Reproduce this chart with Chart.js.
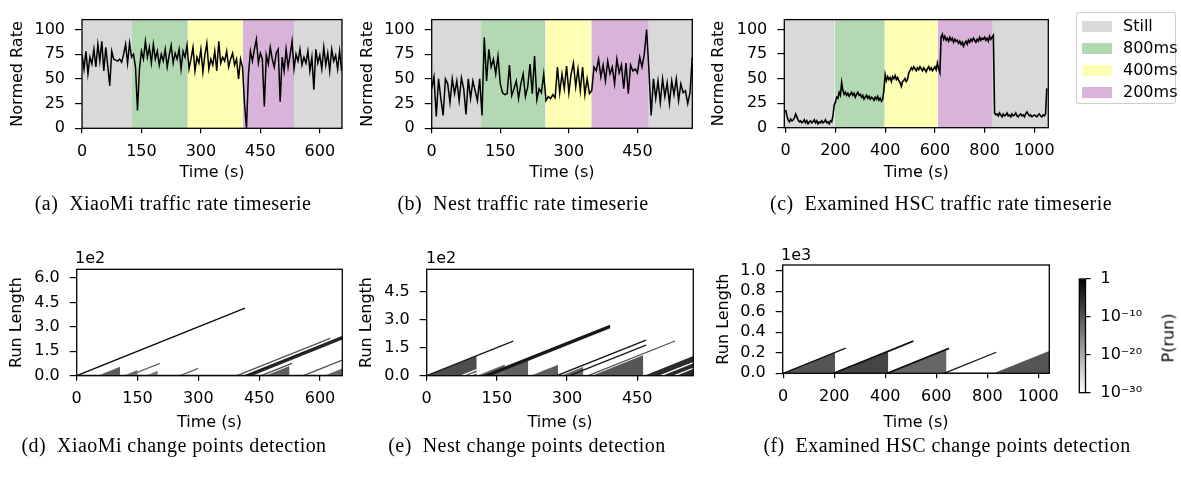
<!DOCTYPE html>
<html>
<head>
<meta charset="utf-8">
<script src="https://cdn.jsdelivr.net/npm/chart.js@4.4.0/dist/chart.umd.min.js"></script>
<style>
  body { margin: 0; background: #fff; }
  #page { position: relative; width: 1181px; height: 477px; overflow: hidden; font-family: 'DejaVu Sans', sans-serif; }
  canvas { position: absolute; left: 0; top: 0; }
  .cap { position: absolute; width: 460px; text-align: center; font-family: 'Liberation Serif', serif;
         font-size: 20px; letter-spacing: 0.45px; line-height: 20px; white-space: nowrap; color: #000; }
  .off { position: absolute; font-size: 16px; line-height: 19px; color: #000; }
  #legend { position: absolute; left: 1076px; top: 12px; width: 100px; height: 92px; box-sizing: border-box;
            border: 1px solid #cccccc; border-radius: 3px; background: #fff; }
  .row { position: absolute; left: 0; height: 22px; line-height: 22px; font-size: 16px; white-space: nowrap; }
  .row span.patch { position: absolute; left: 5px; top: 5.5px; width: 30px; height: 11px; }
  .row span.txt { position: absolute; left: 46px; top: 0; }
  #prun { position: absolute; left: 1168px; top: 338px; font-size: 16px; line-height: 19px; color: #000;
          transform: translate(-50%, -50%) rotate(-90deg); white-space: nowrap; }
</style>
</head>
<body>
<div id="page">
  <canvas id="ca" width="1181" height="477"></canvas>
  <canvas id="cb" width="1181" height="477"></canvas>
  <canvas id="cc" width="1181" height="477"></canvas>
  <canvas id="cd" width="1181" height="477"></canvas>
  <canvas id="ce" width="1181" height="477"></canvas>
  <canvas id="cf" width="1181" height="477"></canvas>
  <canvas id="cbar" width="1181" height="477"></canvas>

  <div id="legend"></div>
  <div id="prun">P(run)</div>

  <div class="off" style="left:75px;top:248px">1e2</div>
  <div class="off" style="left:426px;top:248px">1e2</div>
  <div class="off" style="left:781px;top:245px">1e3</div>

  <div class="cap" style="left:-57px;top:193px">(a)&nbsp; XiaoMi traffic rate timeserie</div>
  <div class="cap" style="left:293px;top:193px">(b)&nbsp; Nest traffic rate timeserie</div>
  <div class="cap" style="left:711px;top:193px">(c)&nbsp; Examined HSC traffic rate timeserie</div>
  <div class="cap" style="left:-56px;top:435px">(d)&nbsp; XiaoMi change points detection</div>
  <div class="cap" style="left:297px;top:435px">(e)&nbsp; Nest change points detection</div>
  <div class="cap" style="left:717px;top:435px">(f)&nbsp; Examined HSC change points detection</div>
</div>

<script>
// ---- data -------------------------------------------------------------

// phases of the experiment (seconds)
const bandLabels = ['Still', '800ms', '400ms', '200ms', 'Still'];
const bandStartA = [0, 126, 267, 406, 535];
const bandEndA   = [126, 267, 406, 535, 656];
const bandStartB = [0, 108, 249, 349, 475];
const bandEndB   = [108, 249, 349, 475, 570];
const bandStartC = [-6, 196, 398, 611, 833];
const bandEndC   = [196, 398, 611, 833, 1056];

// normed traffic rate, XiaoMi, one sample every 5 s
const stepA = 5;
const rateA = [
  75, 60, 78, 55, 72, 65, 80, 62, 85, 68,
  88, 58, 82, 63, 43, 78, 70, 69, 68, 70,
  67, 75, 85, 66, 86, 72, 75, 62, 18, 60,
  78, 70, 88, 72, 82, 66, 85, 70, 78, 64,
  75, 68, 80, 62, 74, 84, 66, 76, 70, 80,
  60, 78, 72, 84, 60, 70, 82, 58, 72, 66,
  80, 57, 74, 86, 60, 70, 64, 78, 58, 88,
  66, 72, 68, 78, 62, 70, 76, 64, 70, 50,
  70, 62, 25, 0, 55, 78, 68, 80, 90, 66,
  76, 70, 22, 74, 65, 82, 70, 62, 76, 80,
  27, 72, 58, 80, 62, 74, 88, 60, 75, 68,
  80, 64, 72, 66, 78, 58, 72, 39, 80, 66,
  74, 60, 82, 64, 76, 58, 80, 68, 74, 60,
  78, 58
];

// normed traffic rate, Nest, one sample every 5 s
const stepB = 5;
const rateB = [
  40, 52, 12, 50, 30, 13, 50, 45, 26, 50,
  35, 48, 28, 51, 40, 14, 50, 30, 48, 38,
  28, 50, 13, 92, 48, 80, 62, 70, 55, 73,
  45, 36, 34, 35, 64, 33, 40, 48, 30, 45,
  55, 32, 42, 65, 35, 73, 29, 40, 36, 55,
  28, 32, 30, 34, 31, 62, 36, 55, 40, 63,
  36, 55, 66, 42, 60, 38, 62, 34, 50, 35,
  38, 62, 58, 70, 52, 64, 48, 68, 55, 62,
  45, 70, 56, 64, 40, 66, 35, 64, 58, 60,
  56, 72, 62, 75, 100, 60, 13, 50, 30, 48,
  26, 50, 32, 46, 25, 48, 34, 50, 28, 45,
  36, 38, 25, 36, 72
];

// normed traffic rate, examined HSC, one sample every 5 s
const stepC = 5;
const rateC = [
  18, 12, 8, 6, 9, 7, 8, 10, 14, 11,
  8, 6, 7, 5, 6, 8, 5, 7, 4, 6,
  7, 5, 6, 8, 5, 7, 4, 6, 5, 7,
  5, 6, 8, 5, 6, 4, 7, 6, 12, 23,
  26, 31, 30, 36, 33, 46, 38, 34, 36, 33,
  35, 32, 34, 36, 33, 35, 31, 34, 36, 33,
  34, 31, 33, 29, 31, 33, 30, 32, 29, 31,
  30, 28, 31, 29, 32, 28, 30, 27, 29, 38,
  54, 48, 52, 49, 51, 47, 52, 50, 53, 49,
  51, 48, 46, 42, 47, 48, 50, 47, 49, 56,
  58, 61, 59, 62, 60, 58, 61, 59, 62, 60,
  58, 61, 59, 57, 60, 62, 59, 61, 58, 60,
  62, 59, 66, 60, 56, 92, 95, 90, 93, 89,
  91, 88, 92, 89, 91, 87, 90, 88, 89, 86,
  88, 85, 87, 83, 86, 88, 85, 89, 87, 90,
  88, 91, 89, 87, 90, 88, 92, 89, 91, 90,
  92, 89, 91, 88, 93, 90, 92, 94, 15, 13,
  14, 12, 15, 13, 11, 14, 12, 13, 15, 12,
  13, 11, 14, 12, 13, 15, 12, 11, 13, 14,
  12, 13, 11, 14, 16, 14, 12, 13, 11, 12,
  13, 12, 11, 13, 14, 12, 11, 13, 12, 14,
  40
];

// run-length posterior: ramps (start s, end s, log10 P) and filled wedges
const rampStartD = [0, 129, 255, 395, 415, 422, 429, 455, 559];
const rampEndD   = [415, 205, 300, 625, 655, 655, 655, 531, 655];
const rampLogPD  = [-1, -12, -12, -10, -2, -3, -5, -9, -10];
const wedgeStartD = [52, 115, 170, 465, 610];
const wedgeEndD   = [107, 150, 200, 525, 655];
const wedgeLogPD  = [-11, -13, -14, -11, -12];
const floorD = [0, 655, 8, -16];   // start, end, run length, log10 P

const rampStartE = [0, 122, 126, 130, 134, 278, 305, 345, 75, 90, 500, 530];
const rampEndE   = [185, 392, 392, 392, 392, 469, 469, 531, 107, 107, 570, 570];
const rampLogPE  = [-3, -3, -2, -3, -4, -2, -3, -10, -30, -30, -30, -30];
const wedgeStartE = [0, 107, 124, 222, 287, 353, 400, 465];
const wedgeEndE   = [107, 167, 217, 281, 335, 463, 463, 570];
const wedgeLogPE  = [-9, -12, -11, -11, -12, -10, -13, -5];
const floorE = [0, 570, 5, -16];

const rampStartF = [0, 195, 200, 405, 410, 630];
const rampEndF   = [245, 510, 510, 650, 650, 835];
const rampLogPF  = [-2, -2, -4, -2, -4, -2];
const wedgeStartF = [0, 195, 405, 405, 825];
const wedgeEndF   = [203, 412, 640, 500, 1045];
const wedgeLogPF  = [-10, -8, -12, -7, -10];
const floorF = [420, 830, 8, -14];

// tick values
const ticksRate = [0, 25, 50, 75, 100];
const ticksTimeA = [0, 150, 300, 450, 600];
const ticksTimeB = [0, 150, 300, 450];
const ticksTimeC = [0, 200, 400, 600, 800, 1000];
const ticksRunD = [0, 1.5, 3.0, 4.5, 6.0];
const ticksRunE = [0, 1.5, 3.0, 4.5];
const ticksRunF = [0, 0.2, 0.4, 0.6, 0.8, 1.0];
const cbarTicks = [0, -10, -20, -30];
const cbarLabels = ['1', '10\u207B\u00B9\u2070', '10\u207B\u00B2\u2070', '10\u207B\u00B3\u2070'];

// ---- style ------------------------------------------------------------

const W = 1181, H = 477;
const HALF = 9.6;  // half line height of a 16px axis title
const bandColors = ['rgb(217,217,217)', 'rgb(179,217,179)', 'rgb(255,255,179)', 'rgb(217,179,217)', 'rgb(217,217,217)'];
const font16 = { family: 'DejaVu Sans', size: 16 };

function grey(logp) {
  const g = Math.round(255 * Math.min(1, Math.max(0, logp / -30)));
  return 'rgb(' + g + ',' + g + ',' + g + ')';
}

const framePlugin = {
  id: 'frame',
  afterDatasetsDraw(chart) {
    const a = chart.chartArea, c = chart.ctx;
    c.save();
    c.strokeStyle = '#000';
    c.lineWidth = 1.3;
    c.strokeRect(a.left, a.top, a.right - a.left, a.bottom - a.top);
    c.restore();
  }
};

function xAxis(min, max, ticks, fmt, h) {
  return {
    type: 'linear', min: min, max: max,
    afterBuildTicks: s => { s.ticks = ticks.map(v => ({ value: v })); },
    afterFit: s => { s.height = h; },
    grid: { drawOnChartArea: false, color: '#000', tickLength: 5, lineWidth: 1.2 },
    border: { display: false },
    ticks: { font: font16, color: '#000', padding: 9, maxRotation: 0, autoSkip: false, callback: fmt },
    title: { display: true, text: 'Time (s)', font: font16, color: '#000', padding: 0 }
  };
}

function yAxis(min, max, ticks, fmt, w, title) {
  return {
    min: min, max: max,
    afterBuildTicks: s => { s.ticks = ticks.map(v => ({ value: v })); },
    afterFit: s => { s.width = w; },
    grid: { drawOnChartArea: false, color: '#000', tickLength: 7, lineWidth: 1.2 },
    border: { display: false },
    ticks: { font: font16, color: '#000', padding: 10, autoSkip: false, callback: fmt },
    title: { display: true, text: title, font: font16, color: '#000', padding: 0 }
  };
}

// box: plot area (L,T,R,B), centre of y title (yT) and of x title (xT)
function panel(id, box, xs, ys, datasets) {
  const pad = { left: box.yT - HALF, top: box.T, right: W - box.R, bottom: H - box.xT - HALF };
  return new Chart(document.getElementById(id), {
    type: 'line',
    data: { datasets: datasets },
    options: {
      responsive: false, animation: false, events: [],
      layout: { padding: pad },
      plugins: { legend: { display: false }, tooltip: { enabled: false } },
      elements: { point: { radius: 0 }, line: { tension: 0 } },
      scales: {
        x: xAxis(xs.min, xs.max, xs.ticks, xs.fmt, box.xT + HALF - box.B),
        y: yAxis(ys.min, ys.max, ys.ticks, ys.fmt, box.L - (box.yT - HALF), ys.title)
      }
    },
    plugins: [framePlugin]
  });
}

const rateMax = 110;

function rateSets(step, rates, bStart, bEnd, lw) {
  const sets = [{
    data: rates.map((v, i) => ({ x: i * step, y: v })),
    borderColor: '#000', borderWidth: lw, fill: false, order: 0
  }];
  bStart.forEach((s, i) => {
    sets.push({
      label: bandLabels[i],
      data: [{ x: s, y: rateMax }, { x: bEnd[i], y: rateMax }],
      borderColor: 'rgba(0,0,0,0)', backgroundColor: bandColors[i], fill: 'origin', order: 1
    });
  });
  return sets;
}

function runSets(div, rS, rE, rP, wS, wE, wP, floor) {
  const sets = [];
  rS.forEach((s, i) => sets.push({
    data: [{ x: s, y: 0 }, { x: rE[i], y: (rE[i] - s) / div }],
    borderColor: grey(rP[i]), borderWidth: 1.3, fill: false, order: 0
  }));
  wS.forEach((s, i) => sets.push({
    data: [{ x: s, y: 0 }, { x: wE[i], y: (wE[i] - s) / div }],
    borderColor: 'rgba(0,0,0,0)', backgroundColor: grey(wP[i]), fill: 'origin', order: 1
  }));
  sets.push({
    data: [{ x: floor[0], y: floor[2] / div }, { x: floor[1], y: floor[2] / div }],
    borderColor: 'rgba(0,0,0,0)', backgroundColor: grey(floor[3]), fill: 'origin', order: 2
  });
  return sets;
}

const intFmt = v => String(v);
const oneDec = v => v.toFixed(1);

// ---- top row: traffic rate -------------------------------------------

panel('ca', { L: 82, T: 4, R: 342, B: 128.3, yT: 17.5, xT: 173 },
  { min: 0, max: 656, ticks: ticksTimeA, fmt: intFmt },
  { min: 0, max: rateMax, ticks: ticksRate, fmt: intFmt, title: 'Normed Rate' },
  rateSets(stepA, rateA, bandStartA, bandEndA, 1.5));

panel('cb', { L: 431.7, T: 4, R: 692.3, B: 128.3, yT: 367.5, xT: 173 },
  { min: 0, max: 570, ticks: ticksTimeB, fmt: intFmt },
  { min: 0, max: rateMax, ticks: ticksRate, fmt: intFmt, title: 'Normed Rate' },
  rateSets(stepB, rateB, bandStartB, bandEndB, 1.5));

panel('cc', { L: 784.3, T: 4.3, R: 1048.3, B: 127.7, yT: 719.3, xT: 173 },
  { min: -5.6, max: 1056, ticks: ticksTimeC, fmt: intFmt },
  { min: 0, max: rateMax, ticks: ticksRate, fmt: intFmt, title: 'Normed Rate' },
  rateSets(stepC, rateC, bandStartC, bandEndC, 1.6));

// ---- bottom row: run length ------------------------------------------

panel('cd', { L: 76.7, T: 269.3, R: 342.3, B: 375.7, yT: 17, xT: 422.5 },
  { min: 0, max: 655, ticks: ticksTimeA, fmt: intFmt },
  { min: 0, max: 6.54, ticks: ticksRunD, fmt: oneDec, title: 'Run Length' },
  runSets(100, rampStartD, rampEndD, rampLogPD, wedgeStartD, wedgeEndD, wedgeLogPD, floorD));

panel('ce', { L: 426.7, T: 269.3, R: 693.3, B: 375.7, yT: 367, xT: 422.5 },
  { min: 0, max: 570, ticks: ticksTimeB, fmt: intFmt },
  { min: 0, max: 5.7, ticks: ticksRunE, fmt: oneDec, title: 'Run Length' },
  runSets(100, rampStartE, rampEndE, rampLogPE, wedgeStartE, wedgeEndE, wedgeLogPE, floorE));

panel('cf', { L: 782.7, T: 265, R: 1049.3, B: 373.3, yT: 724, xT: 422.5 },
  { min: -2, max: 1043, ticks: ticksTimeC, fmt: intFmt },
  { min: 0, max: 1.055, ticks: ticksRunF, fmt: oneDec, title: 'Run Length' },
  runSets(1000, rampStartF, rampEndF, rampLogPF, wedgeStartF, wedgeEndF, wedgeLogPF, floorF));

// ---- colour bar --------------------------------------------------------

new Chart(document.getElementById('cbar'), {
  type: 'bar',
  data: {
    labels: ['P(run)'],
    datasets: [{
      data: [[-30, 0]],
      barPercentage: 1, categoryPercentage: 1, borderWidth: 0,
      backgroundColor: c => {
        const a = c.chart.chartArea;
        if (!a) return '#888';
        const g = c.chart.ctx.createLinearGradient(0, a.bottom, 0, a.top);
        g.addColorStop(0, '#ffffff');
        g.addColorStop(1, '#000000');
        return g;
      }
    }]
  },
  options: {
    responsive: false, animation: false, events: [],
    layout: { padding: { left: 1079.3, top: 279, right: W - 1085.5 - 80, bottom: H - 392.7 } },
    plugins: { legend: { display: false }, tooltip: { enabled: false } },
    scales: {
      x: { display: false },
      y: {
        position: 'right', min: -30, max: 0,
        afterBuildTicks: s => { s.ticks = cbarTicks.map(v => ({ value: v })); },
        afterFit: s => { s.width = 80; },
        grid: { drawOnChartArea: false, color: '#000', tickLength: 5, lineWidth: 1.2 },
        border: { display: false },
        ticks: { font: font16, color: '#000', padding: 10, autoSkip: false,
                 callback: v => cbarLabels[cbarTicks.indexOf(v)] }
      }
    }
  },
  plugins: [framePlugin]
});

// ---- legend ------------------------------------------------------------

const legend = document.getElementById('legend');
bandLabels.slice(0, 4).forEach((name, i) => {
  const row = document.createElement('div');
  row.className = 'row';
  row.style.top = (2 + i * 22) + 'px';
  row.innerHTML = '<span class="patch" style="background:' + bandColors[i] + '"></span><span class="txt">' + name + '</span>';
  legend.appendChild(row);
});
</script>
</body>
</html>
